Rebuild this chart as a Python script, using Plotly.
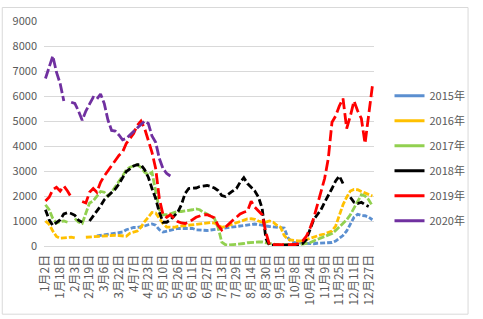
import plotly.graph_objects as go

tick_labels = ["1月2日", "1月18日", "2月3日", "2月19日", "3月6日", "3月22日", "4月7日",
               "4月23日", "5月10日", "5月26日", "6月11日", "6月27日", "7月13日", "7月29日",
               "8月14日", "8月30日", "9月15日", "10月8日", "10月24日", "11月9日",
               "11月25日", "12月11日", "12月27日"]

# sample positions: 4 samples per tick-label interval
n_samples = 90
step = 0.25

y2015 = [None] * 14 + [
    400, 420, 430, 480, 500, 500,
    540, 560, 650, 700, 740, 740, 760, 800, 850, 880,
    830, 650, 560, 600, 630, 680, 700, 700, 710, 720,
    700, 650, 630, 620, 620, 640, 660, 670, 680, 700,
    720, 740, 760, 800, 820, 850, 860, 880, 860, 820,
    800, 780, 760, 740, 740, 720, 330, 170, 130, 120,
    100, 90, 80, 90, 110, 120, 120, 120, 140, 200,
    300, 420, 600, 880, 1150, 1270, 1220, 1210, 1150, 1050]

y2016 = [1000, 870, 600, 380, 310, 330, 320, 350, 320, None,
         None, 350, 360, 380, 390, 410, 430, 420, 430, 430,
         420, 400, 390, 510, 540, 600, 750, 980, 1150, 1340,
         1320, 1100, 900, 760, 740, 750, 780, 800, 820, 830,
         860, 880, 900, 920, 935, 935, 920, 830, 750, 780,
         830, 910, 950, 1000, 1050, 1080, 1090, 1070, 1000, 960,
         960, 1000, 950, 830, 750, 420, 260, 230, 220, 200,
         210, 260, 330, 370, 410, 450, 480, 540, 600, 800,
         1200, 1650, 1950, 2200, 2260, 2250, 2180, 2120, 2080, 2000]

y2017 = [1650, 1450, 1100, 920, 980, 1000, 950, None, 1100, 960,
         900, 1350, 1720, 1800, 2000, 2180, 2150, 2000, 2150, 2350,
         2550, 2800, 3050, 3150, 3200, 3250, 3150, 2950, 2850, 2950,
         2200, 1450, 1250, 1250, 1290, 1330, 1380, 1380, 1400, 1400,
         1450, 1480, 1450, 1350, 1280, 1200, 1100, 740, 150, 50,
         40, 50, 70, 90, 100, 130, 150, 160, 160, 160,
         130, 80, 50, 50, 50, 50, 50, 50, 40, 50,
         80, 100, 130, 200, 260, 300, 360, 430, 500, 620,
         750, 900, 1050, 1250, 1500, 1800, 2050, 2000, 1850, 1600]

y2018 = [1450, 1050, 820, 930, 1050, 1280, 1330, 1300, 1230, 1030,
         950, None, 1000, 1200, 1420, 1600, 1850, 2000, 2150, 2280,
         2480, 2750, 2980, 3080, 3200, 3250, 3250, 3050, 2750, 2300,
         1900, 1350, 950, 950, 1050, 1200, 1350, 1650, 2100, 2300,
         2300, 2320, 2380, 2400, 2420, 2380, 2320, 2220, 2020, 1980,
         2100, 2200, 2300, 2550, 2730, 2500, 2350, 2200, 1950, 1500,
         300, 30, 30, 30, 30, 30, 30, 30, 30, 50,
         100, 250, 650, 1050, 1250, 1450, 1750, 2000, 2300, 2600,
         2800, 2500, None, 1950, 1750, 1700, 1750, 1650, 1580, None]

y2019 = [1800, 1950, 2250, 2350, 2200, 2400, 2200, 1950, None, None,
         1780, 1720, 2150, 2300, 2150, 2550, 2800, 3000, 3250, 3450,
         3620, 3760, 4100, 4300, 4500, 4830, 5000, 4700, 4200, 3750,
         3100, 1900, 1250, 1150, 1250, 1130, 980, 920, 900, 950,
         1050, 1150, 1200, 1250, 1250, 1200, 1130, 820, 640, 750,
         900, 1030, 1150, 1280, 1350, 1400, 1790, 1550, 1400, 1250,
         550, 40, 50, 50, 50, 50, 50, 50, 60, 110,
         200, 380, 700, 1100, 1600, 2200, 2700, 3500, 4950, 5200,
         5600, 5900, 4700, 5200, 5800, 5400, 5100, 4100, 5300, 6400]

y2020 = [6700, 7150, 7600, 6950, 6500, 5800, None, 5750, 5700, 5400,
         5030, 5400, 5650, 5950, 5880, 6080, 5700, 5050, 4620, 4600,
         4440, 4250, 4300, 4440, 4600, 4700, 4850, 5000, 4900, 4400,
         4150, 3500, 3100, 2900, 2800] + [None] * 55

series_names = ["2015年", "2016年", "2017年", "2018年", "2019年", "2020年"]
series_values = [y2015, y2016, y2017, y2018, y2019, y2020]
colors = ["#5b8fd0", "#ffc000", "#92d050", "#000000", "#ff0000", "#7030a0"]
dashes = ["5px,2px", "6px,2px", "7px,2px", "7px,3px", "11px,4px", "10px,3px"]

x = [i * step for i in range(n_samples)]

fig = go.Figure()
for name, vals, col, dsh in zip(series_names, series_values, colors, dashes):
    fig.add_trace(go.Scatter(x=x, y=vals, mode="lines", name=name,
                             legendgroup=name, showlegend=False,
                             line=dict(color=col, width=2.8, dash=dsh),
                             connectgaps=False, hoverinfo="skip"))
for name, col in zip(series_names, colors):
    fig.add_trace(go.Scatter(x=[None], y=[None], mode="lines", name=name,
                             legendgroup=name, showlegend=True,
                             line=dict(color=col, width=3)))

font_family = "Noto Sans CJK SC, Noto Sans, sans-serif"
fig.update_layout(
    width=483, height=319,
    margin=dict(l=44, r=99, t=15, b=73),
    paper_bgcolor="white", plot_bgcolor="white",
    font=dict(family=font_family, size=11, color="#595959"),
    showlegend=True,
    legend=dict(x=1.047, y=0.732, xanchor="left", yanchor="top",
                traceorder="grouped", tracegroupgap=6,
                font=dict(size=11, color="#595959"),
                bgcolor="rgba(0,0,0,0)"),
    xaxis=dict(range=[-0.099, 22.36], tickmode="array",
               tickvals=list(range(len(tick_labels))), ticktext=tick_labels,
               tickangle=-90, showgrid=False, zeroline=False,
               showline=True, linecolor="#d9d9d9", linewidth=1,
               ticks="", ticklabelstandoff=3,
               tickfont=dict(size=12, color="#595959")),
    yaxis=dict(range=[0, 9000], dtick=1000, showgrid=True,
               gridcolor="#d9d9d9", gridwidth=1, zeroline=False,
               showline=False, ticks="", ticklabelstandoff=6,
               tickfont=dict(size=11, color="#595959")),
    shapes=[dict(type="rect", xref="paper", yref="paper",
                 x0=-0.1265, x1=1.285, y0=-0.303, y1=1.06,
                 line=dict(color="#d9d9d9", width=1))],
)

fig.write_html("out.html")
